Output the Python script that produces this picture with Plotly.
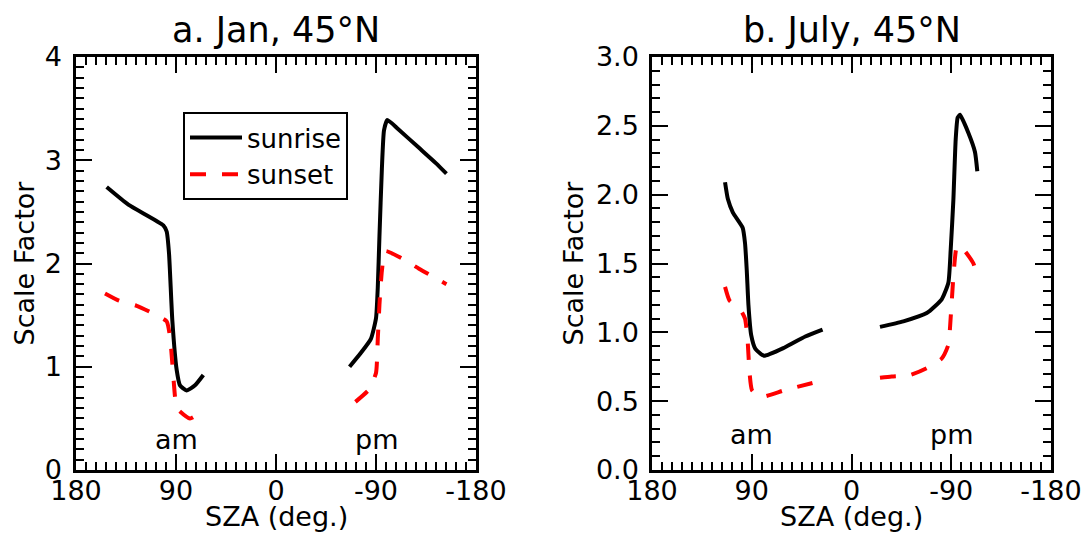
import plotly.graph_objects as go

# ---------------- data ----------------
# a. January, 45N
jan_rise_am_sza = [152.4, 132.9, 101.4, 98.4, 96.3, 93.3, 89.4, 86.4, 80.4, 72.9, 65.4]
jan_rise_am_val = [2.74, 2.57, 2.37, 2.31, 2.10, 1.45, 0.97, 0.82, 0.77, 0.82, 0.92]
jan_rise_pm_sza = [-66.2, -76.1, -85.4, -90.0, -91.6, -93.1, -95.3, -97.2, -100.2, -110.1, -128.7, -144.1, -153.4]
jan_rise_pm_val = [1.00, 1.13, 1.27, 1.47, 1.77, 2.26, 2.92, 3.29, 3.39, 3.30, 3.12, 2.97, 2.87]
jan_set_am_sza = [153.9, 141.3, 125.4, 111.3, 98.4, 95.4, 93.3, 90.9, 89.4, 77.4, 65.4]
jan_set_am_val = [1.71, 1.64, 1.59, 1.52, 1.44, 1.29, 1.03, 0.71, 0.60, 0.50, 0.58]
jan_set_pm_sza = [-71.5, -83.8, -90.0, -91.6, -93.1, -95.3, -98.4, -113.2, -128.7, -153.4]
jan_set_pm_val = [0.66, 0.78, 0.94, 1.27, 1.60, 1.93, 2.12, 2.05, 1.95, 1.80]

# b. July, 45N
jul_rise_am_sza = [114.1, 111.6, 107.0, 98.2, 96.1, 94.5, 93.0, 90.5, 86.7, 79.0, 60.3, 41.7, 26.1]
jul_rise_am_val = [2.09, 1.97, 1.87, 1.76, 1.65, 1.45, 1.20, 0.98, 0.88, 0.83, 0.89, 0.97, 1.02]
jul_rise_pm_sza = [-25.7, -46.8, -67.9, -81.4, -87.4, -89.5, -91.9, -94.0, -95.8, -97.9, -105.4, -111.4, -113.5]
jul_rise_pm_val = [1.04, 1.08, 1.14, 1.24, 1.36, 1.60, 1.96, 2.40, 2.56, 2.58, 2.45, 2.31, 2.17]
jul_set_am_sza = [114.1, 110.0, 100.7, 96.1, 93.9, 92.0, 89.8, 82.0, 60.3, 26.1]
jul_set_am_val = [1.33, 1.23, 1.17, 1.10, 0.96, 0.71, 0.58, 0.53, 0.58, 0.65]
jul_set_pm_sza = [-25.7, -36.3, -52.8, -67.9, -81.4, -87.4, -89.5, -91.9, -94.9, -97.9, -110.0, -113.5]
jul_set_pm_val = [0.67, 0.68, 0.69, 0.74, 0.81, 0.91, 1.11, 1.40, 1.62, 1.63, 1.50, 1.38]

x_tickvals = [180, 90, 0, -90, -180]
x_ticktext = ["180", "90", "0", "-90", "-180"]
jan_y_tickvals = [0, 1, 2, 3, 4]
jan_y_ticktext = ["0", "1", "2", "3", "4"]
jul_y_tickvals = [0, 0.5, 1.0, 1.5, 2.0, 2.5, 3.0]
jul_y_ticktext = ["0.0", "0.5", "1.0", "1.5", "2.0", "2.5", "3.0"]
panel_titles = ["a. Jan, 45°N", "b. July, 45°N"]

FONT = "DejaVu Sans"
W, H = 1084, 533

fig = go.Figure()


def add_pair(sza_am, val_am, sza_pm, val_pm, name, color, dash, width, xa, ya, show):
    fig.add_trace(go.Scatter(
        x=sza_am + [None] + sza_pm, y=val_am + [None] + val_pm,
        mode="lines", name=name, showlegend=show, connectgaps=False,
        line=dict(color=color, width=width, dash=dash, shape="spline", smoothing=0.5),
        xaxis=xa, yaxis=ya))


DASH = "16px,16px"
add_pair(jan_rise_am_sza, jan_rise_am_val, jan_rise_pm_sza, jan_rise_pm_val,
         "sunrise", "black", "solid", 4, "x", "y", True)
add_pair(jan_set_am_sza, jan_set_am_val, jan_set_pm_sza, jan_set_pm_val,
         "sunset", "red", DASH, 4, "x", "y", True)
add_pair(jul_rise_am_sza, jul_rise_am_val, jul_rise_pm_sza, jul_rise_pm_val,
         "sunrise", "black", "solid", 4, "x2", "y2", False)
add_pair(jul_set_am_sza, jul_set_am_val, jul_set_pm_sza, jul_set_pm_val,
         "sunset", "red", DASH, 4, "x2", "y2", False)

ydom = [(H - 470) / H, (H - 57) / H]
xdom1 = [76 / W, 476 / W]
xdom2 = [652 / W, 1051 / W]

common_axis = dict(
    showline=True, linecolor="black", linewidth=2.5, mirror="allticks",
    ticks="inside", ticklen=16, tickwidth=2, tickcolor="black",
    showgrid=False, zeroline=False, automargin=False,
    tickfont=dict(family=FONT, size=27, color="black"),
    minor=dict(ticks="inside", ticklen=8, tickwidth=2, tickcolor="black", showgrid=False),
)

xaxis_cfg = dict(common_axis, range=[180, -180], tickmode="array",
                 tickvals=x_tickvals, ticktext=x_ticktext, ticklabelstandoff=-5)
xaxis_cfg["minor"] = dict(common_axis["minor"], dtick=9, tick0=0)

fig.update_layout(
    width=W, height=H,
    margin=dict(l=0, r=0, t=0, b=0, pad=0, autoexpand=False),
    paper_bgcolor="white", plot_bgcolor="white",
    font=dict(family=FONT, color="black"),
    xaxis=dict(xaxis_cfg, domain=xdom1, anchor="y"),
    xaxis2=dict(xaxis_cfg, domain=xdom2, anchor="y2"),
    yaxis=dict(common_axis, domain=ydom, anchor="x", range=[0, 4],
               tickmode="array", tickvals=jan_y_tickvals, ticktext=jan_y_ticktext,
               minor=dict(common_axis["minor"], dtick=0.1, tick0=0), ticklabelstandoff=6),
    yaxis2=dict(common_axis, domain=ydom, anchor="x2", range=[0, 3],
                tickmode="array", tickvals=jul_y_tickvals, ticktext=jul_y_ticktext,
                minor=dict(common_axis["minor"], dtick=0.1, tick0=0), ticklabelstandoff=5),
    legend=dict(
        x=183 / W, y=(H - 112) / H, xanchor="left", yanchor="top",
        bordercolor="black", borderwidth=2, bgcolor="white",
        font=dict(family=FONT, size=26, color="black"),
        tracegroupgap=0, itemwidth=52,
    ),
    showlegend=True,
)

annotations = []
for title, xc in zip(panel_titles, [276 / W, 851.5 / W]):
    annotations.append(dict(text=title, x=xc, y=(H - 30.5) / H, xref="paper", yref="paper",
                            xanchor="center", yanchor="middle", showarrow=False,
                            font=dict(family=FONT, size=35, color="black")))
for xc in [276 / W, 851.5 / W]:
    annotations.append(dict(text="SZA (deg.)", x=xc, y=(H - 516) / H, xref="paper", yref="paper",
                            xanchor="center", yanchor="middle", showarrow=False,
                            font=dict(family=FONT, size=27, color="black")))
for xc in [24 / W, 573 / W]:
    annotations.append(dict(text="Scale Factor", x=xc, y=(H - 263.5) / H, xref="paper", yref="paper",
                            xanchor="center", yanchor="middle", showarrow=False, textangle=-90,
                            font=dict(family=FONT, size=27, color="black")))
for xr, yr, yv in [("x", "y", 0.30), ("x2", "y2", 0.26)]:
    for lab, xv in [("am", 90), ("pm", -90)]:
        annotations.append(dict(text=lab, x=xv, y=yv, xref=xr, yref=yr,
                                xanchor="center", yanchor="middle", showarrow=False,
                                font=dict(family=FONT, size=27, color="black")))
fig.update_layout(annotations=annotations)

fig.write_html("out.html", config={"displayModeBar": False},
               post_script="document.body.style.margin='0';document.body.style.overflow='hidden';")
